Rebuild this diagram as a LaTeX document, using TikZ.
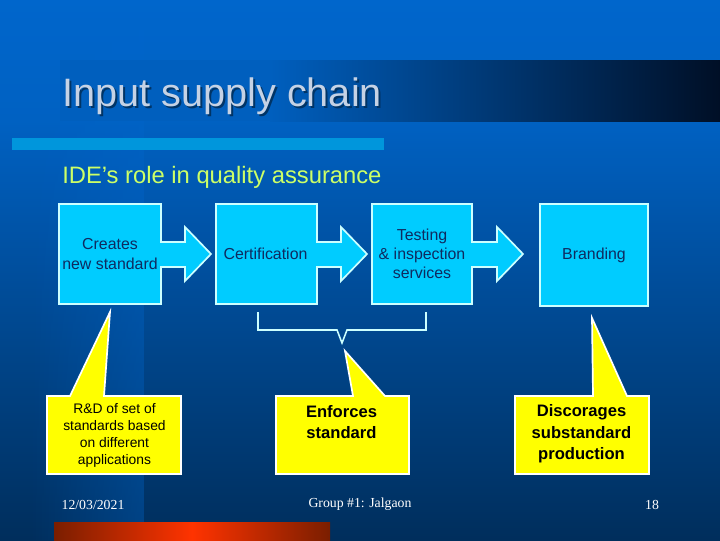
\documentclass[tikz,border=0pt]{standalone}
\usepackage{fontspec}
\setmainfont{Liberation Sans}
\newfontfamily\footfont{Liberation Serif}
\usetikzlibrary{fadings}
\definecolor{slidetop}{HTML}{0066CC}
\definecolor{slidemid}{HTML}{0061C2}
\definecolor{slidebottom}{HTML}{002E5C}
\definecolor{titlebar}{HTML}{005FBE}
\definecolor{titledark}{HTML}{000F26}
\definecolor{titletext}{HTML}{C5D2E5}
\definecolor{titleshade}{HTML}{003466}
\definecolor{subtitletext}{HTML}{CCFF66}
\definecolor{ruleblue}{HTML}{0096DC}
\definecolor{boxfill}{HTML}{00CCFF}
\definecolor{boxedge}{HTML}{CCFFFF}
\definecolor{boxink}{HTML}{0F2A5F}
\definecolor{calloutfill}{HTML}{FFFF00}
\definecolor{redmid}{HTML}{FF3300}
\definecolor{reddark}{HTML}{7A1E00}
\tikzfading[name=stripfade, left color=transparent!100, right color=transparent!65]
\tikzset{
  boxline/.style={draw=boxedge, fill=boxfill, line width=1.2pt, line join=miter},
  calloutline/.style={draw=white, fill=calloutfill, line width=1.2pt, line join=miter},
  boxtext/.style={text=boxink, align=center, inner sep=0pt, font=\fontsize{11.3}{13.7}\selectfont},
  smalltext/.style={text=black, align=center, inner sep=0pt, font=\fontsize{9.85}{12.1}\selectfont},
  boldtext/.style={text=black, align=center, inner sep=0pt, font=\fontsize{11.8}{15.3}\selectfont\bfseries},
  foottext/.style={text=white, inner sep=0pt, font=\footfont\fontsize{9.8}{12}\selectfont},
}
\begin{document}
\begin{tikzpicture}[x=0.025cm,y=-0.025cm]
		\useasboundingbox (0,0) rectangle (720,540);
		% background
		\fill [top color=slidetop, bottom color=slidemid] (0,0) rectangle (720,120);
		\fill [top color=slidemid, bottom color=slidebottom] (0,120) rectangle (720,540);
		\fill [slidetop, path fading=stripfade] (30,0) rectangle (144,540);
		\fill [titlebar] (60,60) rectangle (270,121);
		\fill [left color=titlebar, right color=titledark] (270,60) rectangle (720,121);
		\fill [ruleblue] (12,138) rectangle (384,150);
		\fill [left color=reddark, right color=redmid] (54,522) rectangle (192,540);
		\fill [left color=redmid, right color=reddark] (192,522) rectangle (330,540);
		% titles
		\node[anchor=west, inner sep=0pt, text=titleshade, font=\fontsize{28.2}{34}\selectfont] (titleshadow) at (64,98) {Input supply chain};
		\node[anchor=west, inner sep=0pt, text=titletext, font=\fontsize{28.2}{34}\selectfont] (title) at (62,96) {Input supply chain};
		\node[anchor=west, inner sep=0pt, text=subtitletext, font=\fontsize{16.9}{20}\selectfont] (subtitle) at (62,177) {IDE’s role in quality assurance};
		% boxes with their arrows
		\draw [boxline] (59,204) -- (161,204) -- (161,242) -- (185,242) -- (185,227) -- (211,254) -- (185,281) -- (185,267) -- (161,267) -- (161,304) -- (59,304) -- cycle;
		\draw [boxline] (216,204) -- (317,204) -- (317,242) -- (341,242) -- (341,227) -- (367,254) -- (341,281) -- (341,267) -- (317,267) -- (317,304) -- (216,304) -- cycle;
		\draw [boxline] (372,204) -- (472,204) -- (472,242) -- (497,242) -- (497,227) -- (523,254) -- (497,281) -- (497,267) -- (472,267) -- (472,304) -- (372,304) -- cycle;
		\draw [boxline] (540,204) rectangle (648,306);
		\node[boxtext] (creates) at (110,254) {Creates\\new standard};
		\node[boxtext] (certification) at (265.5,254) {Certification};
		\node[boxtext] (testing) at (422,254) {Testing\\\& inspection\\services};
		\node[boxtext] (branding) at (594,255) {Branding};
		% bracket
		\draw [boxedge, line width=1.1pt] (258,312) -- (258,330) -- (337,330) -- (342,343) -- (347,330) -- (426,330) -- (426,312);
		% callouts
		\draw [calloutline] (47,396) -- (70,396) -- (110,312) -- (104,396) -- (181,396) -- (181,474) -- (47,474) -- cycle;
		\draw [calloutline] (276,396) -- (353,396) -- (345,351) -- (385,396) -- (409,396) -- (409,474) -- (276,474) -- cycle;
		\draw [calloutline] (515,396) -- (593,396) -- (592,318) -- (627,396) -- (649,396) -- (649,474) -- (515,474) -- cycle;
		\node[smalltext] (rnd) at (114.5,435) {R\&D of set of\\standards based\\on different\\applications};
		\node[boldtext] (enforces) at (341.5,422) {Enforces\\standard};
		\node[boldtext] (discorages) at (581.5,434) {Discorages\\substandard\\production};
		% footer
		\node[foottext] (date) at (93,504.5) {12/03/2021};
		\node[foottext] (group) at (360,504.5) {Group \#1: Jalgaon};
		\node[foottext] (page) at (652,504.5) {18};
	\end{tikzpicture}
\end{document}
